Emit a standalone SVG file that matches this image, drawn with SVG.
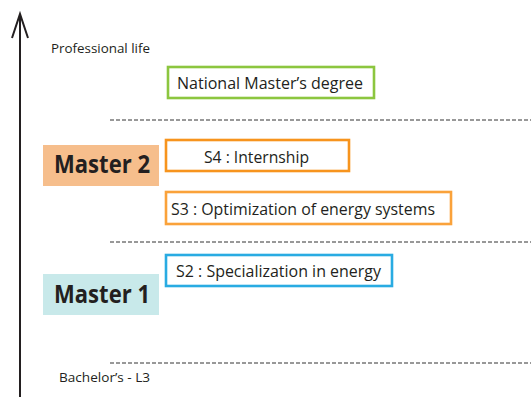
<svg xmlns="http://www.w3.org/2000/svg" width="531" height="397" viewBox="0 0 531 397">
<style>
text{font-family:"Open Sans","Liberation Sans",sans-serif;fill:#231F20}
.lbl{font-size:15.6px}
.small{font-size:12.6px}
.big{font-size:24.5px;font-weight:bold}
.box{fill:#fff;stroke-width:2.6}
.sep{stroke:#333;stroke-width:1;stroke-dasharray:4 2;fill:none}
</style>
<rect width="531" height="397" fill="#fff"/>
<g id="axis">
<line x1="20" y1="397" x2="20" y2="15" stroke="#231F20" stroke-width="2"/>
<polyline points="12,38 20,14 28,38" fill="none" stroke="#231F20" stroke-width="2"/>
</g>
<g id="separators">
<line class="sep" x1="110" y1="120" x2="531" y2="120"/>
<line class="sep" x1="110" y1="242" x2="531" y2="242"/>
<line class="sep" x1="110" y1="363" x2="531" y2="363"/>
</g>
<g id="professional-life"><text class="small" x="51" y="53" textLength="99" lengthAdjust="spacingAndGlyphs">Professional life</text></g>
<g id="bachelor"><text class="small" x="59" y="382" textLength="91" lengthAdjust="spacingAndGlyphs">Bachelor’s - L3</text></g>
<g id="national-master">
<rect class="box" x="168" y="67" width="206" height="31" stroke="#8CC63F"/>
<text class="lbl" x="177" y="89" textLength="186" lengthAdjust="spacingAndGlyphs">National Master’s degree</text>
</g>
<g id="master2">
<rect x="43" y="145" width="116" height="41" fill="#F6BE8C"/>
<text class="big" x="54" y="173" textLength="96" lengthAdjust="spacingAndGlyphs">Master 2</text>
</g>
<g id="s4">
<rect class="box" x="166" y="140" width="183" height="31" stroke="#F7941D"/>
<text class="lbl" x="204" y="163" textLength="105" lengthAdjust="spacingAndGlyphs">S4 : Internship</text>
</g>
<g id="s3">
<rect class="box" x="166" y="192" width="285" height="32" stroke="#FAA23A"/>
<text class="lbl" x="171" y="215" textLength="264" lengthAdjust="spacingAndGlyphs">S3 : Optimization of energy systems</text>
</g>
<g id="s2">
<rect class="box" x="166" y="255" width="226" height="31" stroke="#29ABE2"/>
<text class="lbl" x="176" y="277" textLength="205" lengthAdjust="spacingAndGlyphs">S2 : Specialization in energy</text>
</g>
<g id="master1">
<rect x="43" y="274" width="116" height="41" fill="#C8E9EA"/>
<text class="big" x="54" y="303" textLength="96" lengthAdjust="spacingAndGlyphs">Master 1</text>
</g>
</svg>
